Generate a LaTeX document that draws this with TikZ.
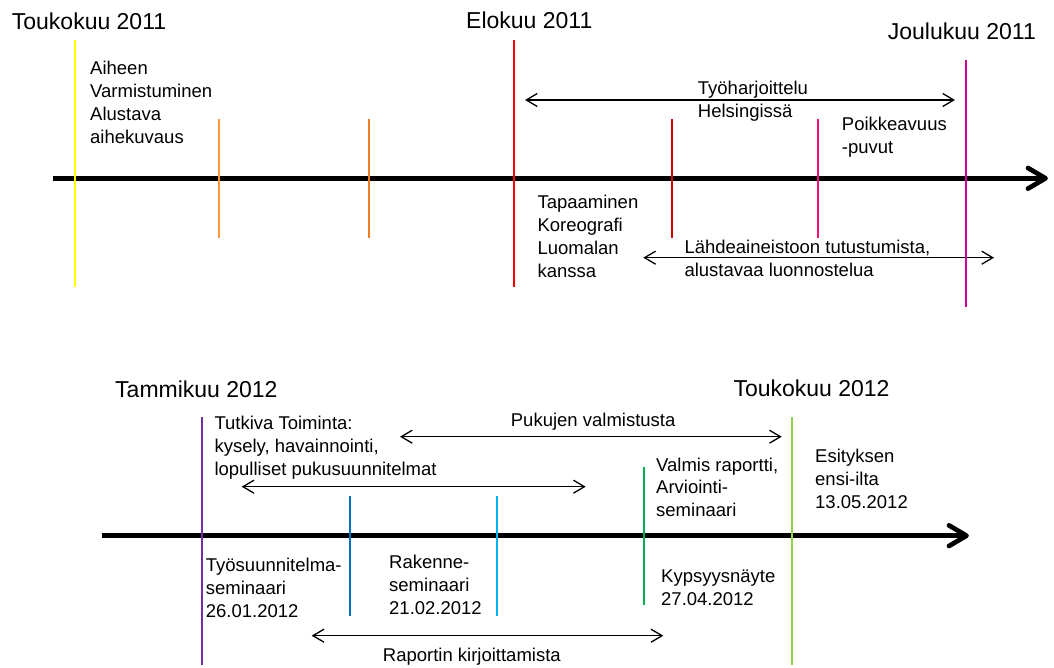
\documentclass[tikz,border=0pt]{standalone}
\usepackage{fontspec}
\setmainfont{Liberation Sans}
\usetikzlibrary{arrows.meta}
\definecolor{cYellow}{HTML}{FFFF00}
\definecolor{cOrangeA}{HTML}{FF9A3C}
\definecolor{cOrangeB}{HTML}{F07D22}
\definecolor{cRed}{HTML}{FF0000}
\definecolor{cDarkRed}{HTML}{CC0000}
\definecolor{cPink}{HTML}{FF0A78}
\definecolor{cMagenta}{HTML}{CC0099}
\definecolor{cPurple}{HTML}{7030A0}
\definecolor{cBlueA}{HTML}{0070C0}
\definecolor{cBlueB}{HTML}{00B0F0}
\definecolor{cGreenA}{HTML}{00B050}
\definecolor{cGreenB}{HTML}{92D050}
\tikzset{
  title/.style={inner sep=0pt, anchor=base west, font=\fontsize{23}{27}\selectfont},
  lbl/.style={inner sep=0pt, anchor=base west, align=left, font=\fontsize{18.5}{22.8}\selectfont},
  tick/.style={line width=2pt},
  span/.style={line width=1.3pt, {Straight Barb[length=11pt,width=13pt]}-{Straight Barb[length=11pt,width=13pt]}},
  axis/.style={line width=4.7pt},
  chev/.style={line width=4.7pt, line cap=round, line join=round}
}
\begin{document}
\begin{tikzpicture}[x=1pt,y=-1pt]
\useasboundingbox (0,0) rectangle (1054,668);
% ---------- titles ----------
\node[title] (t1) at (11.7,30) {Toukokuu 2011};
\node[title] (t2) at (466,28.3) {Elokuu 2011};
\node[title] (t3) at (887.7,40) {Joulukuu 2011};
\node[title] (t4) at (115,397.3) {Tammikuu 2012};
\node[title] (t5) at (733.3,396.7) {Toukokuu 2012};
% ---------- labels top (anchored at baseline of last line) ----------
\node[lbl] (a1) at (90,143.3) {Aiheen\\Varmistuminen\\Alustava\\aihekuvaus};
\node[lbl] (a2) at (697.7,117.7) {Työharjoittelu\\Helsingissä};
\node[lbl] (a3) at (841.7,153.3) {Poikkeavuus\\-puvut};
\node[lbl] (a4) at (537.3,277.3) {Tapaaminen\\Koreografi\\Luomalan\\kanssa};
\node[lbl] (a5) at (684.3,276.7) {Lähdeaineistoon tutustumista,\\alustavaa luonnostelua};
% ---------- labels bottom ----------
\node[lbl] (b1) at (510.7,426.7) {Pukujen valmistusta};
\node[lbl] (b2) at (214.3,475) {Tutkiva Toiminta:\\kysely, havainnointi,\\lopulliset pukusuunnitelmat};
\node[lbl] (b3) at (656,516.7) {Valmis raportti,\\Arviointi-\\seminaari};
\node[lbl] (b4) at (815,508.3) {Esityksen\\ensi-ilta\\13.05.2012};
\node[lbl] (b5) at (205.7,617.3) {Työsuunnitelma-\\seminaari\\26.01.2012};
\node[lbl] (b6) at (389,614.3) {Rakenne-\\seminaari\\21.02.2012};
\node[lbl] (b7) at (661,605) {Kypsyysnäyte\\27.04.2012};
\node[lbl] (b8) at (382.7,661.7) {Raportin kirjoittamista};
% ---------- axes ----------
\coordinate (ax1s) at (52.7,178.3);
\coordinate (ax1e) at (1045.5,178.3);
\coordinate (ax1u) at (1028,168);
\coordinate (ax1d) at (1028,188.6);
\draw[axis] (ax1s) -- (ax1e);
\draw[chev] (ax1u) -- (ax1e) -- (ax1d);
\coordinate (ax2s) at (101.7,535.7);
\coordinate (ax2e) at (966.5,535.7);
\coordinate (ax2u) at (949,525.4);
\coordinate (ax2d) at (949,546);
\draw[axis] (ax2s) -- (ax2e);
\draw[chev] (ax2u) -- (ax2e) -- (ax2d);
% ---------- spans ----------
\coordinate (s1a) at (525,100);   \coordinate (s1b) at (955,100);
\coordinate (s2a) at (643.3,257.7); \coordinate (s2b) at (994,257.7);
\coordinate (s3a) at (400,436.7); \coordinate (s3b) at (781.7,436.7);
\coordinate (s4a) at (241.7,486.7); \coordinate (s4b) at (585.7,486.7);
\coordinate (s5a) at (311.7,635.7); \coordinate (s5b) at (663.3,635.7);
\draw[span] (s1a) -- (s1b);
\draw[span] (s2a) -- (s2b);
\draw[span] (s3a) -- (s3b);
\draw[span] (s4a) -- (s4b);
\draw[span] (s5a) -- (s5b);
% ---------- ticks top ----------
\draw[tick, cYellow] (74.7,40) -- (74.7,287.3);
\draw[tick, cOrangeA] (219.3,119) -- (219.3,237.7);
\draw[tick, cOrangeB] (369,119) -- (369,237.7);
\draw[tick, cRed] (514.3,40) -- (514.3,287.3);
\draw[tick, cDarkRed] (671.7,119) -- (671.7,237.7);
\draw[tick, cPink] (818.3,119) -- (818.3,237.7);
\draw[tick, cMagenta] (965.7,60) -- (965.7,306.7);
% ---------- ticks bottom ----------
\draw[tick, cPurple] (202.3,417.3) -- (202.3,665);
\draw[tick, cBlueA] (350,496) -- (350,615.7);
\draw[tick, cBlueB] (497.3,496) -- (497.3,615.7);
\draw[tick, cGreenA] (644.3,467.3) -- (644.3,605);
\draw[tick, cGreenB] (791.7,417.3) -- (791.7,665);
\end{tikzpicture}
\end{document}
